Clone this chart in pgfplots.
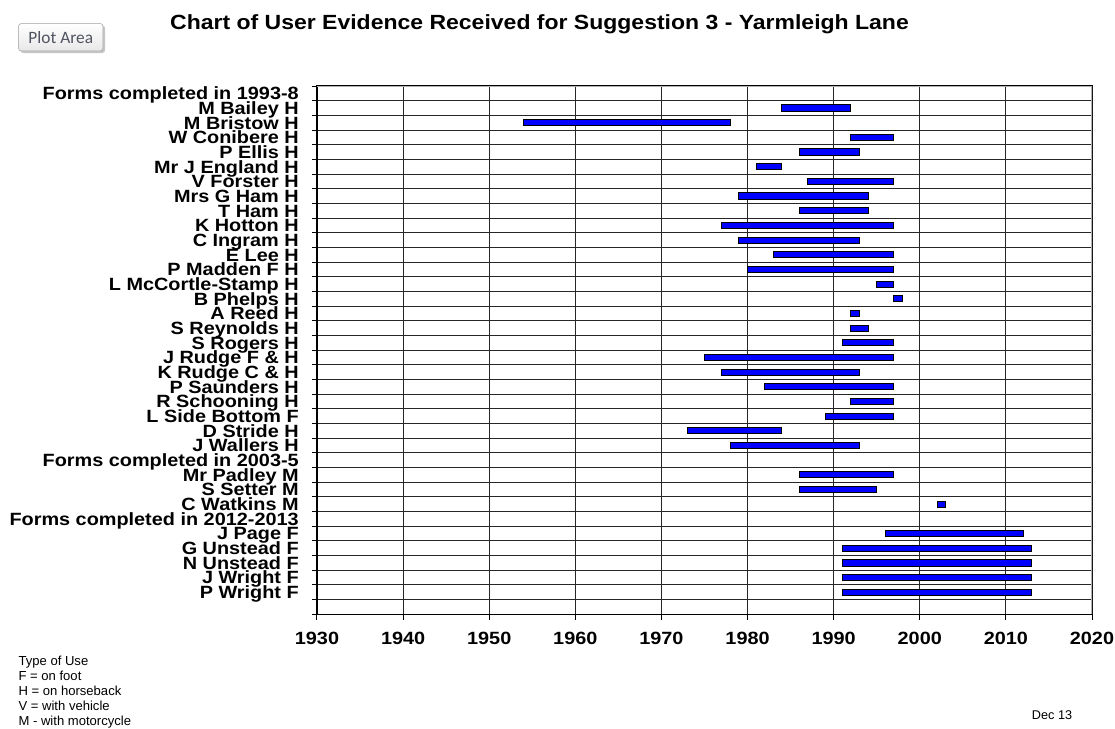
\documentclass[border=0pt]{standalone}
\usepackage{fontspec}
\setmainfont{Liberation Sans}
\newfontfamily\labfont[FakeStretch=1.12]{Liberation Sans}
\newfontfamily\btnfont{Carlito}
\usepackage{pgfplots}
\usepackage{pgfplotstable}
\pgfplotsset{compat=1.18}

\pgfplotstableread{
row start end
2 1984 1992
3 1954 1978
4 1992 1997
5 1986 1993
6 1981 1984
7 1987 1997
8 1979 1994
9 1986 1994
10 1977 1997
11 1979 1993
12 1983 1997
13 1980 1997
14 1995 1997
15 1997 1998
16 1992 1993
17 1992 1994
18 1991 1997
19 1975 1997
20 1977 1993
21 1982 1997
22 1992 1997
23 1989 1997
24 1973 1984
25 1978 1993
27 1986 1997
28 1986 1995
29 2002 2003
31 1996 2012
32 1991 2013
33 1991 2013
34 1991 2013
35 1991 2013
}\bars

\definecolor{btntext}{RGB}{80,84,96}

\begin{document}
\begin{tikzpicture}
\path[use as bounding box] (0,0) rectangle (836.25pt,-546.75pt);
\begin{scope}[x=0.75pt,y=-0.75pt]
  % title
  \node[anchor=base, inner sep=0pt] at (539.5,29.3)
    {\labfont\bfseries\fontsize{15.4}{18}\selectfont Chart of User Evidence Received for Suggestion 3 - Yarmleigh Lane};
  % Plot Area button
  \fill[gray!45, rounded corners=2pt] (20.5,25.5) rectangle (105,53);
  \node[draw=gray!75, rounded corners=2pt, top color=white, bottom color=gray!18,
        minimum width=63.3pt, minimum height=20.5pt, anchor=north west, inner sep=0pt,
        text=btntext] at (18.3,23.3) {\btnfont\fontsize{13}{13}\selectfont Plot Area};
  % type-of-use notes
  \begin{scope}[every node/.style={anchor=base west, inner sep=0pt, font=\fontsize{9.8}{11}\selectfont}]
    \node at (18.3,665) {Type of Use};
    \node at (18.3,680) {F = on foot};
    \node at (18.3,695) {H = on horseback};
    \node at (18.3,710) {V = with vehicle};
    \node at (18.3,725) {M - with motorcycle};
    \node[font=\fontsize{9.5}{11}\selectfont] at (1031.7,719.3) {Dec 13};
  \end{scope}
\end{scope}

\begin{axis}[
  at={(237.75pt,-460.725pt)}, anchor=south west,
  scale only axis, width=581.25pt, height=396.225pt,
  xmin=1930, xmax=2020, ymin=0.5, ymax=36.5, y dir=reverse,
  xbar stacked, bar width=0.42,
  xtick={1930,1940,...,2020},
  xticklabels={1930,1940,1950,1960,1970,1980,1990,2000,2010,2020},
  xmajorgrids=true,
  ytick={1,...,35},
  yticklabels={
    {Forms completed in 1993-8},
    {M Bailey H},{M Bristow H},{W Conibere H},{P Ellis H},{Mr J England H},
    {V Forster H},{Mrs G Ham H},{T Ham H},{K Hotton H},{C Ingram H},{E Lee H},
    {P Madden F H},{L McCortle-Stamp H},{B Phelps H},{A Reed H},{S Reynolds H},
    {S Rogers H},{J Rudge F \& H},{K Rudge C \& H},{P Saunders H},{R Schooning H},
    {L Side Bottom F},{D Stride H},{J Wallers H},
    {Forms completed in 2003-5},
    {Mr Padley M},{S Setter M},{C Watkins M},
    {Forms completed in 2012-2013},
    {J Page F},{G Unstead F},{N Unstead F},{J Wright F},{P Wright F}},
  minor ytick={0.5,1.5,...,36.5},
  yminorgrids=true, ymajorgrids=false,
  tick align=outside, xtick pos=bottom, ytick pos=left,
  major tick length=4.5pt, minor tick length=3.5pt,
  every major y tick/.append style={draw=none},
  grid style={black!85, line width=0.75pt},
  minor grid style={black!85, line width=0.75pt},
  axis line style={black, line width=1pt},
  tick style={black, line width=0.75pt},
  xticklabel style={font=\labfont\bfseries\fontsize{13.3}{16}\selectfont, anchor=base, yshift=-17.8pt},
  yticklabel style={font=\labfont\bfseries\fontsize{13.3}{16}\selectfont, anchor=base east, inner xsep=0pt, xshift=-9pt, yshift=-4.75pt},
]
\addplot[draw=none, fill=none] table[x=start, y=row]{\bars};
\addplot[fill=blue, draw=black, line width=0.75pt] table[x expr=\thisrow{end}-\thisrow{start}, y=row]{\bars};
\draw[gray!60, line width=1.5pt] (axis description cs:0,1) -- (axis description cs:1,1) -- (axis description cs:1,0);
\end{axis}
\end{tikzpicture}
\end{document}
